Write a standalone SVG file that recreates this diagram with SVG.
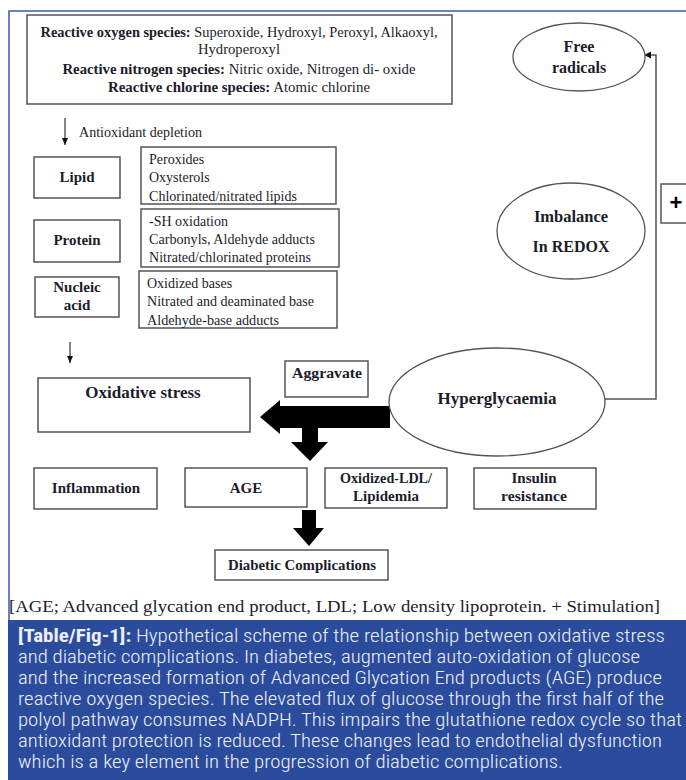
<svg xmlns="http://www.w3.org/2000/svg" width="686" height="780" viewBox="0 0 686 780">
<defs>
<style>
.box{fill:#fff;stroke:#555;stroke-width:1.5}
.ell{fill:#fff;stroke:#555;stroke-width:1.3}
.t{font-family:"Liberation Serif","DejaVu Serif",serif;fill:#1c1c2a}
.d{font-size:14px}
.l{font-size:15px}
.b{font-weight:bold}
.c{text-anchor:middle}
.line{fill:none;stroke:#333;stroke-width:1.2}
.conn{fill:none;stroke:#555;stroke-width:1.5}
.cap{font-family:"Liberation Sans Narrow","Roboto Condensed","Liberation Sans",Arial,sans-serif;font-size:19px;font-weight:300;fill:#eef0f8}
</style>
<marker id="ah" markerWidth="8" markerHeight="8" refX="7" refY="4" orient="auto" markerUnits="userSpaceOnUse">
<path d="M0,1 L7,4 L0,7 Z" fill="#111"/>
</marker>
</defs>
<rect x="0" y="0" width="686" height="780" fill="#fff"/>
<path d="M9,620 V11 H686" fill="none" stroke="#3a5aa8" stroke-width="1.5"/>

<g id="species">
<rect class="box" x="27" y="15" width="425" height="89"/>
<text class="t c" x="239" y="37" font-size="14" textLength="397" lengthAdjust="spacingAndGlyphs"><tspan class="b">Reactive oxygen species:</tspan> Superoxide, Hydroxyl, Peroxyl, Alkaoxyl,</text>
<text class="t c" x="239" y="54" font-size="14" textLength="82" lengthAdjust="spacingAndGlyphs">Hydroperoxyl</text>
<text class="t c" x="239" y="74" font-size="14" textLength="353" lengthAdjust="spacingAndGlyphs"><tspan class="b">Reactive nitrogen species:</tspan> Nitric oxide, Nitrogen di- oxide</text>
<text class="t c" x="239" y="92" font-size="14" textLength="262" lengthAdjust="spacingAndGlyphs"><tspan class="b">Reactive chlorine species:</tspan> Atomic chlorine</text>
</g>

<g id="connectors">
<line class="line" x1="65" y1="118" x2="65" y2="145" marker-end="url(#ah)"/>
<line class="line" x1="70" y1="342" x2="70" y2="363" marker-end="url(#ah)"/>
<polyline class="conn" points="605,399 656,399 656,55 646,55"/>
<path d="M644,55 L651,51.5 L651,58.5 Z" fill="#111"/>
<path d="M390,406 H280 V400 L260,417 L280,434 V428 H390 Z" fill="#000"/>
<path d="M302,427 H318 V442 H328 L310,461 L291,442 H302 Z" fill="#000"/>
<path d="M302,510 H316 V528 H324 L309,546 L293,528 H302 Z" fill="#000"/>
</g>

<text class="t d" x="79" y="137" textLength="123" lengthAdjust="spacingAndGlyphs">Antioxidant depletion</text>

<g id="lipid">
<rect class="box" x="34" y="157" width="86" height="41"/>
<text class="t b c l" x="77" y="182">Lipid</text>
</g>
<g id="lipid-products">
<rect class="box" x="141" y="147" width="195" height="57"/>
<text class="t d" x="149" y="164">Peroxides</text>
<text class="t d" x="149" y="182">Oxysterols</text>
<text class="t d" x="149" y="201" textLength="148" lengthAdjust="spacingAndGlyphs">Chlorinated/nitrated lipids</text>
</g>

<g id="protein">
<rect class="box" x="34" y="220" width="86" height="42"/>
<text class="t b c l" x="77" y="245">Protein</text>
</g>
<g id="protein-products">
<rect class="box" x="141" y="209" width="198" height="58"/>
<text class="t d" x="149" y="226">-SH oxidation</text>
<text class="t d" x="149" y="244" textLength="166" lengthAdjust="spacingAndGlyphs">Carbonyls, Aldehyde adducts</text>
<text class="t d" x="149" y="262" textLength="162" lengthAdjust="spacingAndGlyphs">Nitrated/chlorinated proteins</text>
</g>

<g id="nucleic">
<rect class="box" x="35" y="277" width="84" height="40"/>
<text class="t b c l" x="77" y="292">Nucleic</text>
<text class="t b c l" x="77" y="310">acid</text>
</g>
<g id="nucleic-products">
<rect class="box" x="139" y="271" width="198" height="57"/>
<text class="t d" x="147" y="288">Oxidized bases</text>
<text class="t d" x="147" y="306" textLength="167" lengthAdjust="spacingAndGlyphs">Nitrated and deaminated base</text>
<text class="t d" x="147" y="325" textLength="132" lengthAdjust="spacingAndGlyphs">Aldehyde-base adducts</text>
</g>

<g id="free-radicals">
<ellipse class="ell" cx="579" cy="57" rx="66" ry="34"/>
<text class="t b c" x="579" y="52" font-size="16">Free</text>
<text class="t b c" x="579" y="73" font-size="16">radicals</text>
</g>

<g id="imbalance">
<ellipse class="ell" cx="571" cy="231" rx="74" ry="48"/>
<text class="t b c" x="571" y="222" font-size="16.5">Imbalance</text>
<text class="t b c" x="571" y="252" font-size="16">In REDOX</text>
</g>

<g id="plus">
<rect class="box" x="661" y="184" width="30" height="39"/>
<text class="c" x="676" y="210" font-size="22" font-weight="bold" font-family="Liberation Sans, Arial, sans-serif" fill="#000">+</text>
</g>

<g id="oxidative-stress">
<rect class="box" x="38" y="378" width="212" height="54"/>
<text class="t b c" x="143" y="398" font-size="17">Oxidative stress</text>
</g>

<g id="aggravate">
<rect class="box" x="285" y="361" width="83" height="36"/>
<text class="t b c" x="327" y="378" font-size="14" textLength="70" lengthAdjust="spacingAndGlyphs">Aggravate</text>
</g>

<g id="hyperglycaemia">
<ellipse class="ell" cx="497" cy="402" rx="108" ry="54"/>
<text class="t b c" x="497" y="404" font-size="17">Hyperglycaemia</text>
</g>

<g id="inflammation">
<rect class="box" x="34" y="468" width="123" height="41"/>
<text class="t b c l" x="96" y="493">Inflammation</text>
</g>
<g id="age">
<rect class="box" x="185" y="468" width="122" height="39"/>
<text class="t b c l" x="246" y="493">AGE</text>
</g>
<g id="oxidized-ldl">
<rect class="box" x="325" y="468" width="122" height="40"/>
<text class="t b c" x="386" y="483" font-size="14.5" textLength="92" lengthAdjust="spacingAndGlyphs">Oxidized-LDL/</text>
<text class="t b c l" x="386" y="501">Lipidemia</text>
</g>
<g id="insulin">
<rect class="box" x="474" y="468" width="122" height="41"/>
<text class="t b c l" x="534" y="483">Insulin</text>
<text class="t b c l" x="534" y="501" textLength="66" lengthAdjust="spacingAndGlyphs">resistance</text>
</g>

<g id="diabetic-complications">
<rect class="box" x="215" y="550" width="173" height="30"/>
<text class="t b c l" x="302" y="570" textLength="148" lengthAdjust="spacingAndGlyphs">Diabetic Complications</text>
</g>

<text class="t" x="9" y="612" font-size="17" textLength="651" lengthAdjust="spacingAndGlyphs">[AGE; Advanced glycation end product, LDL; Low density lipoprotein. + Stimulation]</text>

<rect x="8" y="620" width="678" height="160" fill="#2b4c9c"/>
<g class="cap">
<text x="18" y="642" textLength="647" lengthAdjust="spacingAndGlyphs"><tspan font-weight="bold">[Table/Fig-1]:</tspan> Hypothetical scheme of the relationship between oxidative stress</text>
<text x="18" y="663" textLength="622" lengthAdjust="spacingAndGlyphs">and diabetic complications. In diabetes, augmented auto-oxidation of glucose</text>
<text x="18" y="684" textLength="644" lengthAdjust="spacingAndGlyphs">and the increased formation of Advanced Glycation End products (AGE) produce</text>
<text x="18" y="705" textLength="646" lengthAdjust="spacingAndGlyphs">reactive oxygen species. The elevated flux of glucose through the first half of the</text>
<text x="18" y="726" textLength="664" lengthAdjust="spacingAndGlyphs">polyol pathway consumes NADPH. This impairs the glutathione redox cycle so that</text>
<text x="18" y="747" textLength="644" lengthAdjust="spacingAndGlyphs">antioxidant protection is reduced. These changes lead to endothelial dysfunction</text>
<text x="18" y="768" textLength="545" lengthAdjust="spacingAndGlyphs">which is a key element in the progression of diabetic complications.</text>
</g>
</svg>
